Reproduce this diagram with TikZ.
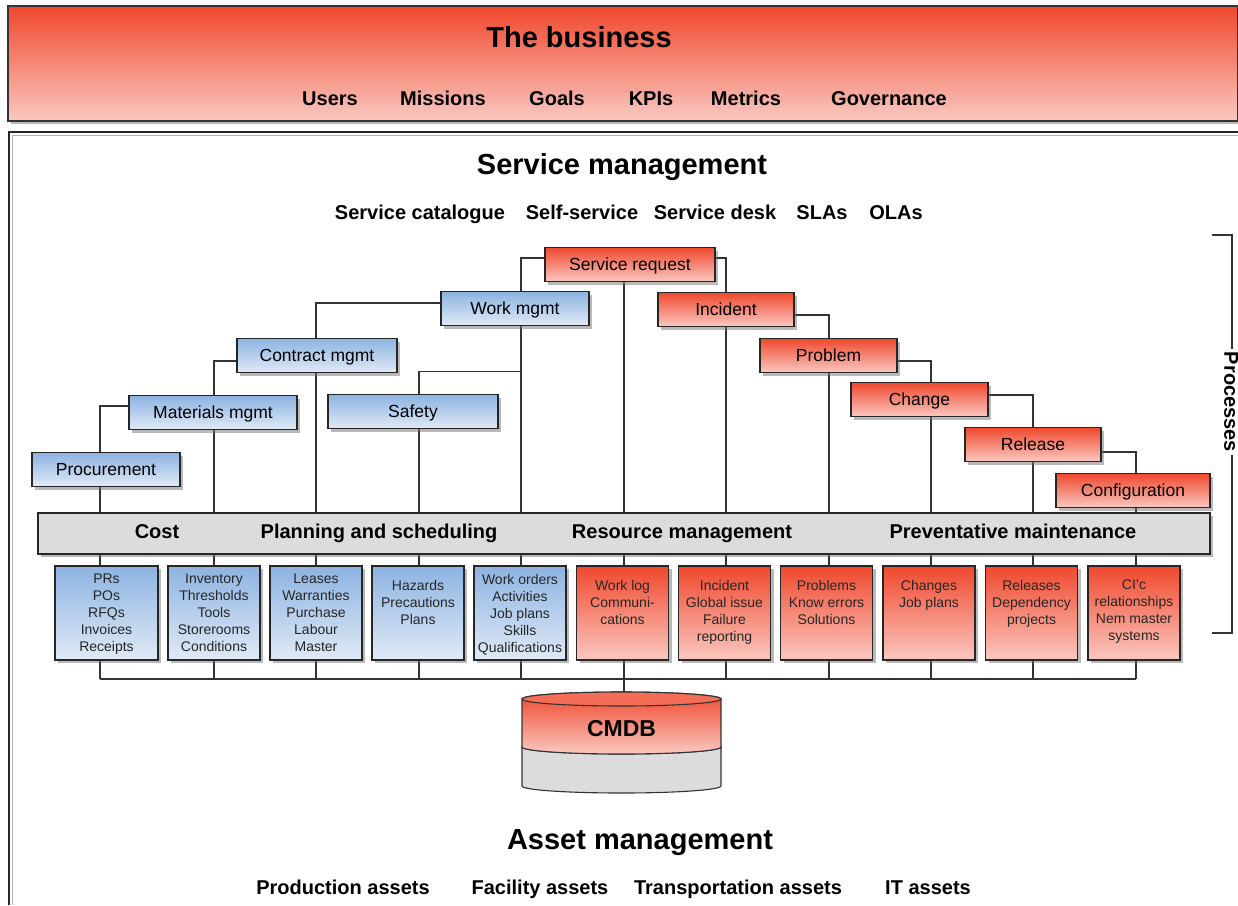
\documentclass[tikz,border=0pt]{standalone}
\usepackage{fontspec}
\setmainfont{Liberation Sans}
\usetikzlibrary{shadows,backgrounds}
\definecolor{redtop}{RGB}{240,72,45}
\definecolor{redbot}{RGB}{250,200,193}
\definecolor{bluetop}{RGB}{141,179,226}
\definecolor{bluebot}{RGB}{224,234,246}
\definecolor{barfill}{RGB}{220,220,220}
\begin{document}
\begin{tikzpicture}[x=1pt,y=-1pt]
\tikzstyle{head}=[font=\fontsize{29}{34}\selectfont\bfseries,text height=1.05em,text depth=0pt];
\tikzstyle{item}=[font=\fontsize{20}{24}\selectfont\bfseries,text height=1.05em,text depth=0pt];
\tikzstyle{link}=[draw=black!80,line width=1.1pt];
\tikzstyle{shade}=[drop shadow={shadow xshift=3pt,shadow yshift=-3pt,fill=black!55}];
\tikzstyle{proc}=[draw=black!85,line width=1.2pt,minimum height=34pt,inner sep=0pt,font=\fontsize{17.5}{20}\selectfont,text height=1.1em,text depth=0pt,shade];
\tikzstyle{amproc}=[proc,top color=bluetop,bottom color=bluebot];
\tikzstyle{smproc}=[proc,top color=redtop,bottom color=redbot];
\tikzstyle{data}=[draw=black!85,line width=1.2pt,minimum width=92pt,minimum height=94pt,inner sep=0pt,shade];
\tikzstyle{amdata}=[data,top color=bluetop,bottom color=bluebot];
\tikzstyle{smdata}=[data,top color=redtop,bottom color=redbot];
\tikzstyle{datatext}=[anchor=north,align=center,inner sep=0pt,text=black!85,font=\fontsize{14}{17}\selectfont];
\useasboundingbox (0,0) rectangle (1238,905);

% the business
\node [shade,draw=black!80,line width=1.2pt,top color=redtop,bottom color=redbot,minimum width=1230pt,minimum height=115pt] (biz) at (623,63.5) {};
\node [head] (bizt) at (579,42) {The business};
\node [item] (users) at (330,100) {Users};
\node [item] (miss) at (443,100) {Missions};
\node [item] (goals) at (557,100) {Goals};
\node [item] (kpis) at (651,100) {KPIs};
\node [item] (metr) at (746,100) {Metrics};
\node [item] (gov) at (889,100) {Governance};

% service management
\draw [black!30,line width=1pt] (12,905) -- (12,135) -- (1238,135);
\draw [black!85,line width=1.3pt] (9,905) -- (9,132) -- (1238,132);
\node [head] (smt) at (622,169) {Service management};
\node [item] (cat) at (420,214) {Service catalogue};
\node [item] (self) at (582,214) {Self-service};
\node [item] (desk) at (715,214) {Service desk};
\node [item] (slas) at (822,214) {SLAs};
\node [item] (olas) at (896,214) {OLAs};

\node [smproc,minimum width=170pt] (sr) at (630,264.5) {Service request};
\node [amproc,minimum width=148pt] (wm) at (515,308.5) {Work mgmt};
\node [amproc,minimum width=160pt] (cm) at (317,355.5) {Contract mgmt};
\node [amproc,minimum width=168pt] (mm) at (213,412.5) {Materials mgmt};
\node [amproc,minimum width=170pt] (sa) at (413,411.5) {Safety};
\node [amproc,minimum width=148pt] (pr) at (106,469.5) {Procurement};
\node [smproc,minimum width=136pt] (in) at (726,309.5) {Incident};
\node [smproc,minimum width=137pt] (pb) at (828.5,355.5) {Problem};
\node [smproc,minimum width=137pt] (ch) at (919.5,399.5) {Change};
\node [smproc,minimum width=136pt] (re) at (1033,444.5) {Release};
\node [smproc,minimum width=154pt] (cf) at (1133,490.5) {Configuration};

\node [shade,draw=black!85,line width=1.2pt,fill=barfill,minimum width=1172pt,minimum height=41pt] (bar) at (624,533.5) {};
\node [item] (cost) at (157,533) {Cost};
\node [item] (plan) at (379,533) {Planning and scheduling};
\node [item] (res) at (682,533) {Resource management};
\node [item] (prev) at (1013,533) {Preventative maintenance};

\node [amdata,minimum width=103pt] (d1) at (106.5,613) {};
\node [amdata] (d2) at (214,613) {};
\node [amdata] (d3) at (316,613) {};
\node [amdata] (d4) at (418,613) {};
\node [amdata] (d5) at (520,613) {};
\node [smdata] (d6) at (622.5,613) {};
\node [smdata] (d7) at (724.5,613) {};
\node [smdata] (d8) at (826.5,613) {};
\node [smdata] (d9) at (929,613) {};
\node [smdata] (d10) at (1031.5,613) {};
\node [smdata] (d11) at (1134,613) {};
\node [datatext] (t1) at (d1.north |- 0,574) {PRs\\POs\\RFQs\\Invoices\\Receipts};
\node [datatext] (t2) at (d2.north |- 0,574) {Inventory\\Thresholds\\Tools\\Storerooms\\Conditions};
\node [datatext] (t3) at (d3.north |- 0,574) {Leases\\Warranties\\Purchase\\Labour\\Master};
\node [datatext] (t4) at (d4.north |- 0,580) {Hazards\\Precautions\\Plans};
\node [datatext] (t5) at (d5.north |- 0,574) {Work orders\\Activities\\Job plans\\Skills\\Qualifications};
\node [datatext] (t6) at (d6.north |- 0,580) {Work log\\Communi-\\cations};
\node [datatext] (t7) at (d7.north |- 0,580) {Incident\\Global issue\\Failure\\reporting};
\node [datatext] (t8) at (d8.north |- 0,580) {Problems\\Know errors\\Solutions};
\node [datatext] (t9) at (d9.north |- 0,580) {Changes\\Job plans};
\node [datatext] (t10) at (d10.north |- 0,580) {Releases\\Dependency\\projects};
\node [datatext] (t11) at (d11.north |- 0,580) {CI'c\\relationships\\Nem master\\systems};

% CMDB
\coordinate (bus) at (624,679);
\coordinate (dbtop) at (621.5,692);
\draw [link,fill=barfill] (522,747) -- (522,786) arc[start angle=180,end angle=360,x radius=99.5pt,y radius=7pt] -- (721,747) arc[start angle=0,end angle=-180,x radius=99.5pt,y radius=7pt] -- cycle;
\draw [link,top color=redtop,bottom color=redbot] (522,699) -- (522,747) arc[start angle=180,end angle=360,x radius=99.5pt,y radius=7pt] -- (721,699) arc[start angle=0,end angle=180,x radius=99.5pt,y radius=7pt] -- cycle;
\draw [link,fill=redtop!80!white] (621.5,699) ellipse[x radius=99.5pt,y radius=7pt];
\node [font=\fontsize{23}{27}\selectfont\bfseries,text height=1.05em,text depth=0pt] (db) at (621.5,731) {CMDB};

% processes
\node [font=\fontsize{20}{24}\selectfont\bfseries,rotate=-90,inner sep=3pt,text height=0.72em,text depth=0pt] (procs) at (1228,402) {Processes};
\draw [link] ([xshift=4pt]procs.west) -- ([xshift=4pt]procs.west |- 0,235) -- ++(-20,0);
\draw [link] ([xshift=4pt]procs.east) -- ([xshift=4pt]procs.east |- 0,633) -- ++(-20,0);

% asset management
\node [head] (amt) at (640,844) {Asset management};
\node [item] (prod) at (343,889) {Production assets};
\node [item] (fac) at (540,889) {Facility assets};
\node [item] (trans) at (738,889) {Transportation assets};
\node [item] (it) at (928,889) {IT assets};

\begin{scope}[on background layer]
\draw [link] ([yshift=6.5pt]sr.west) -| ([xshift=6pt]wm.north);
\draw [link] ([yshift=5.5pt]wm.west) -| ([xshift=-1pt]cm.north);
\draw [link] ([yshift=-5.5pt]cm.west) -| ([xshift=1pt]mm.north);
\draw [link] ([yshift=6.5pt]mm.west) -| ([xshift=-6pt]pr.north);
\draw [link] ([xshift=6pt]sa.north) -- ++(0,-22) -| ([xshift=6pt]wm.south);
\draw [link] ([yshift=6.5pt]sr.east) -| (in.north);
\draw [link] ([yshift=-5.5pt]in.east) -| ([xshift=0.5pt]pb.north);
\draw [link] ([yshift=-5.5pt]pb.east) -| ([xshift=11.5pt]ch.north);
\draw [link] ([yshift=4.5pt]ch.east) -| (re.north);
\draw [link] ([yshift=-7.5pt]re.east) -| ([xshift=3pt]cf.north);

\draw [link] ([xshift=-6pt]pr.center) -- ([xshift=-6pt]pr.center |- bus);
\draw [link] ([xshift=1pt]mm.center) -- ([xshift=1pt]mm.center |- bus);
\draw [link] ([xshift=-1pt]cm.center) -- ([xshift=-1pt]cm.center |- bus);
\draw [link] ([xshift=6pt]sa.center) -- ([xshift=6pt]sa.center |- bus);
\draw [link] ([xshift=6pt]wm.center) -- ([xshift=6pt]wm.center |- bus);
\draw [link] ([xshift=-6pt]sr.center) -- ([xshift=-6pt]sr.center |- bus);
\draw [link] (in.center) -- (in.center |- bus);
\draw [link] ([xshift=0.5pt]pb.center) -- ([xshift=0.5pt]pb.center |- bus);
\draw [link] ([xshift=11.5pt]ch.center) -- ([xshift=11.5pt]ch.center |- bus);
\draw [link] (re.center) -- (re.center |- bus);
\draw [link] ([xshift=3pt]cf.center) -- ([xshift=3pt]cf.center |- bus);
\draw [link] ([xshift=-6pt]pr.center |- bus) -- ([xshift=3pt]cf.center |- bus);
\draw [link] (bus) -- (bus |- dbtop);
\end{scope}
\end{tikzpicture}
\end{document}
